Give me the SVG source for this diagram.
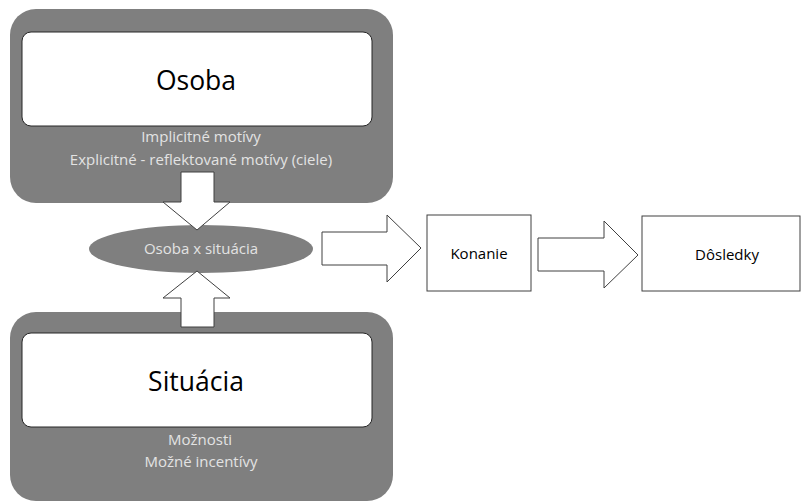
<svg xmlns="http://www.w3.org/2000/svg" width="808" height="502" viewBox="0 0 808 502">
  <style>
    .panel { fill: #7f7f7f; }
    .inner { fill: #ffffff; stroke: #262626; stroke-width: 1; }
    .title { font-family: "Open Sans", "Liberation Sans", sans-serif; font-size: 26.5px; fill: #000; text-anchor: middle; }
    .sub { font-family: "Open Sans", "Liberation Sans", sans-serif; font-size: 15px; fill: #e3e3e3; text-anchor: middle; }
    .box { fill: #ffffff; stroke: #404040; stroke-width: 1; }
    .label { font-family: "Open Sans", "Liberation Sans", sans-serif; font-size: 15px; fill: #000; text-anchor: middle; }
    .block { fill: #ffffff; stroke: #404040; stroke-width: 1; stroke-linejoin: miter; }
  </style>
  <rect width="808" height="502" fill="#ffffff"/>

  <g id="osoba">
    <rect class="panel" x="10" y="9" width="383" height="194" rx="26"/>
    <rect class="inner" x="22" y="32" width="350" height="94" rx="9"/>
    <text class="title" x="196" y="90">Osoba</text>
    <text class="sub" x="201" y="142">Implicitné motívy</text>
    <text class="sub" x="201" y="165">Explicitné - reflektované motívy (ciele)</text>
  </g>

  <g id="situacia">
    <rect class="panel" x="10" y="312" width="383" height="189" rx="26"/>
    <rect class="inner" x="22" y="333" width="350" height="94" rx="9"/>
    <text class="title" x="196" y="391">Situácia</text>
    <text class="sub" x="200" y="445">Možnosti</text>
    <text class="sub" x="201" y="467">Možné incentívy</text>
  </g>

  <g id="interakcia">
    <ellipse cx="201" cy="249" rx="112" ry="24" fill="#7f7f7f"/>
    <text class="sub" x="201" y="254">Osoba x situácia</text>
  </g>

  <g id="konanie">
    <rect class="box" x="427" y="215" width="104" height="76"/>
    <text class="label" x="479" y="259">Konanie</text>
  </g>

  <g id="dosledky">
    <rect class="box" x="642" y="216" width="158" height="75"/>
    <text class="label" x="727" y="260">Dôsledky</text>
  </g>

  <g id="connectors">
    <!-- block arrow from Osoba down to the interaction -->
    <polygon class="block" points="181,172 214,172 214,202 230,202 197,230 163,202 181,202"/>
    <!-- block arrow from Situácia up to the interaction -->
    <polygon class="block" points="181,327 214,327 214,298 230,298 197,271 163,298 181,298"/>
    <!-- interaction to Konanie -->
    <polygon class="block" points="322,232 387,232 387,215 421,248 387,282 387,265 322,265"/>
    <!-- Konanie to Dôsledky -->
    <polygon class="block" points="538,238 604,238 604,221 638,255 604,288 604,271 538,271"/>
  </g>
</svg>
